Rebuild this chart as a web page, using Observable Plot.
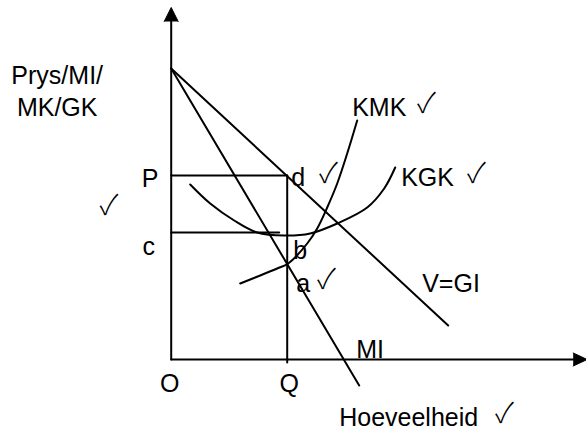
<!DOCTYPE html>
<html><head><meta charset="utf-8">
<script src="https://cdn.jsdelivr.net/npm/d3@7"></script>
<script src="https://cdn.jsdelivr.net/npm/@observablehq/plot@0.6"></script>
<style>html,body{margin:0;padding:0;background:#fff} svg{display:block}</style>
</head><body><div id="chart"></div>
<script>
// Quantity (q) and price (p) in schematic units
const xAxisLine = [{q: 0, p: 0}, {q: 40.4, p: 0}];
const yAxisLine = [{q: 0, p: 0}, {q: 0, p: 34.0}];
const xArrowHead = [{q: 40.2, p: 0.65}, {q: 41.6, p: 0}, {q: 40.2, p: -0.65}];
const yArrowHead = [{q: -0.7, p: 33.8}, {q: 0, p: 35.2}, {q: 0.7, p: 33.8}];

const demandVGI = [{q: 0, p: 29.1}, {q: 27.7, p: 3.4}];
const marginalRevenueMI = [{q: 0, p: 29.1}, {q: 18.8, p: -2.6}];

const kmkCurve = [
  {q: 6.9, p: 7.6}, {q: 8.4, p: 8.2}, {q: 10.6, p: 9.1}, {q: 11.7, p: 9.6},
  {q: 13.6, p: 11.6}, {q: 14.6, p: 13.1}, {q: 15.6, p: 15.2}, {q: 16.6, p: 17.6},
  {q: 17.6, p: 20.6}, {q: 18.6, p: 23.9}
];
const kgkCurve = [
  {q: 1.9, p: 17.5}, {q: 3.9, p: 15.6}, {q: 6.3, p: 13.9}, {q: 8.6, p: 12.7},
  {q: 11.3, p: 12.4}, {q: 13.9, p: 12.6}, {q: 16.6, p: 13.6}, {q: 19.6, p: 15.2},
  {q: 21.3, p: 17.1}, {q: 22.4, p: 19.2}
];

const priceP = 18.4;
const costC = 12.7;
const quantityQ = 11.6;
const cLineEnd = 10.8;

const pLine = [{q: 0, p: priceP}, {q: quantityQ, p: priceP}];
const qLine = [{q: quantityQ, p: -0.3}, {q: quantityQ, p: priceP}];
const cLine = [{q: 0, p: costC}, {q: cLineEnd, p: costC}];

const labelsMiddle = [
  {text: "Prys/MI/", q: -11.4, p: 27.6},
  {text: "MK/GK", q: -11.4, p: 24.4},
  {text: "P", q: -2.1, p: 17.3},
  {text: "c", q: -2.25, p: 10.5},
  {text: "O", q: -0.15, p: -3.2},
  {text: "Q", q: 11.8, p: -3.2}
];
const labelsStart = [
  {text: "MI", q: 18.5, p: 0.2},
  {text: "V=GI", q: 25.1, p: 6.8},
  {text: "Hoeveelheid", q: 16.8, p: -6.6},
  {text: "KMK", q: 18.1, p: 24.4},
  {text: "KGK", q: 23.0, p: 17.4},
  {text: "d", q: 12.0, p: 17.4},
  {text: "b", q: 12.2, p: 10.1},
  {text: "a", q: 12.5, p: 6.8}
];
const checkMarks = [
  {text: "\u2713", q: -6.22, p: 14.5},
  {text: "\u2713", q: 15.73, p: 17.7},
  {text: "\u2713", q: 30.53, p: 17.7},
  {text: "\u2713", q: 25.53, p: 24.7},
  {text: "\u2713", q: 15.53, p: 7.1},
  {text: "\u2713", q: 33.33, p: -6.3}
];

const font = "'Liberation Sans', Arial, 'DejaVu Sans', sans-serif";
const checkFont = "'Noto Sans CJK JP', 'DejaVu Sans', sans-serif";
const sw = 2;

const chart = Plot.plot({
  width: 586,
  height: 429,
  margin: 0,
  x: {domain: [-17.07, 41.53], axis: null},
  y: {domain: [-7.0, 35.9], axis: null},
  style: {background: "white", color: "black", fontFamily: font},
  marks: [
    Plot.line(yAxisLine, {x: "q", y: "p", stroke: "black", strokeWidth: sw}),
    Plot.line(xAxisLine, {x: "q", y: "p", stroke: "black", strokeWidth: sw}),
    Plot.line(yArrowHead, {x: "q", y: "p", stroke: "black", fill: "black", strokeWidth: 1}),
    Plot.line(xArrowHead, {x: "q", y: "p", stroke: "black", fill: "black", strokeWidth: 1}),
    Plot.line(pLine, {x: "q", y: "p", stroke: "black", strokeWidth: sw}),
    Plot.line(qLine, {x: "q", y: "p", stroke: "black", strokeWidth: sw}),
    Plot.line(cLine, {x: "q", y: "p", stroke: "black", strokeWidth: sw}),
    Plot.line(demandVGI, {x: "q", y: "p", stroke: "black", strokeWidth: sw}),
    Plot.line(marginalRevenueMI, {x: "q", y: "p", stroke: "black", strokeWidth: sw}),
    Plot.line(kgkCurve, {x: "q", y: "p", stroke: "black", strokeWidth: sw, curve: "catmull-rom"}),
    Plot.line(kmkCurve, {x: "q", y: "p", stroke: "black", strokeWidth: sw, curve: "catmull-rom"}),
    Plot.text(labelsMiddle, {x: "q", y: "p", text: "text", textAnchor: "middle", lineAnchor: "bottom", fontSize: 25, fill: "black", fontFamily: font}),
    Plot.text(labelsStart, {x: "q", y: "p", text: "text", textAnchor: "start", lineAnchor: "bottom", fontSize: 25, fill: "black", fontFamily: font}),
    Plot.text(checkMarks, {x: "q", y: "p", text: "text", textAnchor: "middle", lineAnchor: "bottom", fontSize: 28, fontWeight: 300, fill: "black", fontFamily: checkFont})
  ]
});
document.getElementById("chart").appendChild(chart);
</script>
</body></html>
